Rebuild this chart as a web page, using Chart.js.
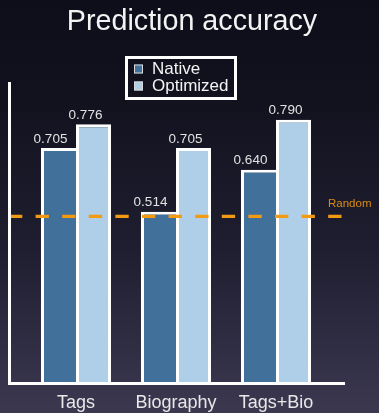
<!DOCTYPE html>
<html>
<head>
<meta charset="utf-8">
<title>Prediction accuracy</title>
<script src="https://cdn.jsdelivr.net/npm/chart.js@4/dist/chart.umd.min.js"></script>
<style>
  html, body { margin: 0; padding: 0; background: #0f0f1b; }
  #wrap { width: 379px; height: 413px; }
  canvas { display: block; }
</style>
</head>
<body>
<div id="wrap"><canvas id="chart" width="379" height="413"></canvas></div>
<script>
// Accuracy per feature set, for the native and optimized models
const categories = ['Tags', 'Biography', 'Tags+Bio'];
const seriesNames = ['Native', 'Optimized'];
const nativeValues = [0.705, 0.514, 0.640];
const optimizedValues = [0.776, 0.705, 0.790];
const randomBaseline = 0.5;
const randomLabel = 'Random';
const chartTitle = 'Prediction accuracy';

const FONT = "'Liberation Sans', Arial, Helvetica, sans-serif";
const NATIVE_COLOR = '#41719a';
const OPTIMIZED_COLOR = '#aecfe7';
const ORANGE = '#f29a12';

const toPoints = values => values.map((v, i) => ({ x: i, y: v }));

// Dark vertical gradient behind everything
const backgroundPlugin = {
  id: 'backdrop',
  beforeDraw(chart) {
    const { ctx, width, height } = chart;
    const g = ctx.createLinearGradient(0, 0, 0, height);
    g.addColorStop(0, '#0e0e1a');
    g.addColorStop(0.25, '#12121f');
    g.addColorStop(0.6, '#1f1e30');
    g.addColorStop(1, '#3b3850');
    ctx.save();
    ctx.fillStyle = g;
    ctx.fillRect(0, 0, width, height);
    ctx.restore();
  }
};

// Dashed chance level, value labels above each bar
const overlayPlugin = {
  id: 'overlay',
  afterDatasetsDraw(chart) {
    const { ctx, chartArea, scales } = chart;
    const y = scales.y.getPixelForValue(randomBaseline);
    ctx.save();
    ctx.strokeStyle = ORANGE;
    ctx.lineWidth = 3.3;
    ctx.setLineDash([13.3, 13.3]);
    ctx.beginPath();
    ctx.moveTo(chartArea.left, y);
    ctx.lineTo(chartArea.right, y);
    ctx.stroke();
    ctx.setLineDash([]);

    ctx.fillStyle = '#dc8a12';
    ctx.font = `11.5px ${FONT}`;
    ctx.textAlign = 'left';
    ctx.textBaseline = 'alphabetic';
    ctx.fillText(randomLabel, chartArea.right - 16, y - 9);

    ctx.fillStyle = '#e2e2e2';
    ctx.font = `13.5px ${FONT}`;
    ctx.textAlign = 'center';
    chart.data.datasets.forEach((ds, di) => {
      const meta = chart.getDatasetMeta(di);
      meta.data.forEach((bar, i) => {
        ctx.fillText(ds.data[i].y.toFixed(3), bar.x - 8, bar.y - 5.5);
      });
    });
    ctx.restore();
  }
};

// Title and boxed legend
const headerPlugin = {
  id: 'header',
  afterDraw(chart) {
    const { ctx } = chart;
    ctx.save();
    ctx.fillStyle = '#f3f3f3';
    ctx.font = `28.7px ${FONT}`;
    ctx.textAlign = 'center';
    ctx.textBaseline = 'alphabetic';
    ctx.fillText(chartTitle, 192, 29.5);

    ctx.strokeStyle = '#ffffff';
    ctx.lineWidth = 3;
    ctx.strokeRect(126.5, 57.5, 109, 41);

    ctx.font = `17px ${FONT}`;
    ctx.textAlign = 'left';
    const rows = [73.5, 90.5];
    chart.data.datasets.forEach((ds, i) => {
      const base = rows[i];
      ctx.fillStyle = ds.backgroundColor;
      ctx.fillRect(134, base - 9, 9, 9);
      ctx.strokeStyle = '#d8d8d8';
      ctx.lineWidth = 1;
      ctx.strokeRect(134.5, base - 8.5, 8, 8);
      ctx.fillStyle = '#f3f3f3';
      ctx.fillText(ds.label, 152, base);
    });
    ctx.restore();
  }
};

new Chart(document.getElementById('chart'), {
  type: 'bar',
  data: {
    datasets: [
      {
        label: seriesNames[0],
        data: toPoints(nativeValues),
        backgroundColor: NATIVE_COLOR,
        borderColor: '#ffffff',
        borderWidth: { top: 3, left: 3, right: 0, bottom: 0 },
        borderSkipped: false
      },
      {
        label: seriesNames[1],
        data: toPoints(optimizedValues),
        backgroundColor: OPTIMIZED_COLOR,
        borderColor: '#ffffff',
        borderWidth: { top: 3, left: 3, right: 3, bottom: 0 },
        borderSkipped: false
      }
    ]
  },
  options: {
    responsive: false,
    animation: false,
    events: [],
    layout: { padding: { left: 9, right: 35, top: 83, bottom: 0 } },
    datasets: {
      bar: { categoryPercentage: 0.7, barPercentage: 1.0 }
    },
    scales: {
      x: {
        type: 'linear',
        min: -0.67,
        max: 2.68,
        offset: false,
        afterBuildTicks(scale) {
          scale.ticks = categories.map((_, i) => ({ value: i }));
        },
        afterFit(scale) { scale.height = 30; },
        grid: { display: false, drawTicks: false },
        border: { display: true, color: '#ffffff', width: 3, z: 1 },
        ticks: {
          autoSkip: false,
          maxRotation: 0,
          padding: 9,
          color: '#e8e8e8',
          font: { family: FONT, size: 18 },
          callback: v => categories[v]
        }
      },
      y: {
        min: 0,
        max: 0.9,
        afterFit(scale) { scale.width = 0; },
        grid: { display: false, drawTicks: false },
        border: { display: true, color: '#ffffff', width: 3, z: 1 },
        ticks: { display: false }
      }
    },
    plugins: {
      legend: { display: false },
      title: { display: false },
      tooltip: { enabled: false }
    }
  },
  plugins: [backgroundPlugin, overlayPlugin, headerPlugin]
});
</script>
</body>
</html>
